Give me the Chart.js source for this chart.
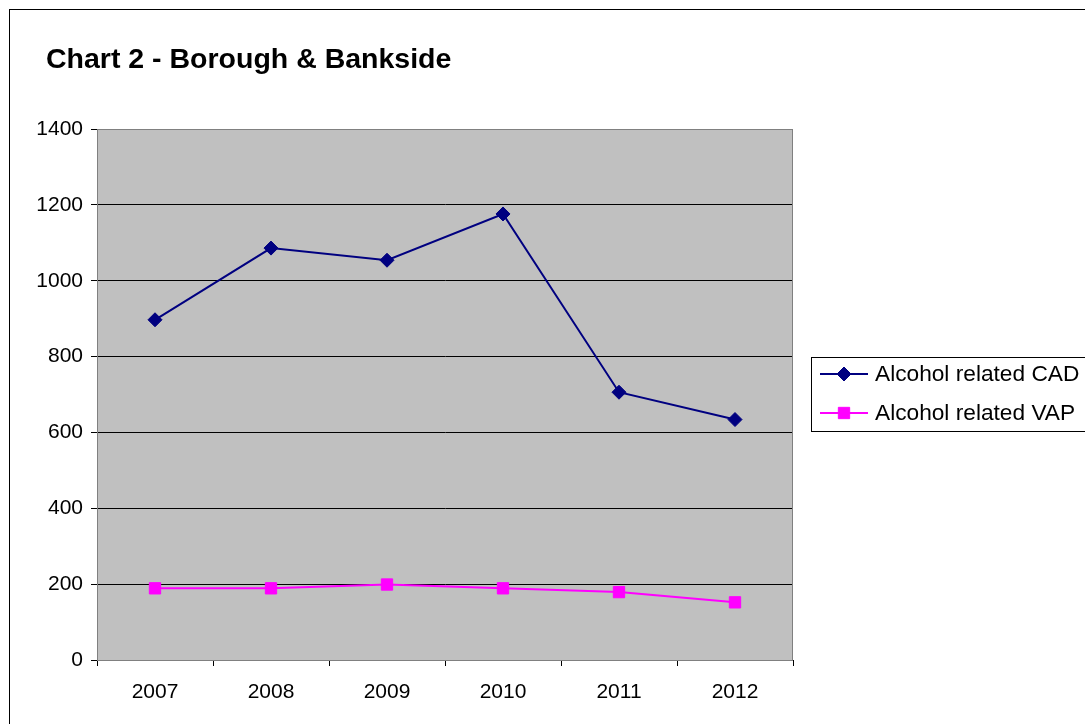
<!DOCTYPE html>
<html>
<head>
<meta charset="utf-8">
<script src="https://cdn.jsdelivr.net/npm/chart.js@4.4.0/dist/chart.umd.min.js"></script>
<style>
  html, body { margin: 0; padding: 0; background: #fff; }
  #wrap { width: 1085px; height: 724px; position: relative; }
</style>
</head>
<body>
<div id="wrap"><canvas id="chart2"></canvas></div>
<script>
// data
const years = ['2007', '2008', '2009', '2010', '2011', '2012'];
const cadValues = [897, 1086, 1054, 1176, 706, 634];
const vapValues = [189, 189, 199, 189, 179, 152];
const seriesNames = ['Alcohol related CAD', 'Alcohol related VAP'];
const chartTitle = 'Chart 2 - Borough & Bankside';

const FONT = '"Liberation Sans", Arial, sans-serif';

// grey plot area + outer frame + title
const framePlugin = {
  id: 'frame',
  beforeDraw(chart) {
    const { ctx, chartArea: a } = chart;
    ctx.save();
    ctx.fillStyle = '#fff';
    ctx.fillRect(0, 0, chart.width, chart.height);
    ctx.fillStyle = '#c0c0c0';
    ctx.fillRect(a.left, a.top, a.right - a.left, a.bottom - a.top);
    ctx.restore();
  },
  afterDraw(chart) {
    const { ctx, chartArea: a } = chart;
    ctx.save();
    ctx.strokeStyle = '#808080';
    ctx.lineWidth = 1;
    ctx.strokeRect(a.left + 0.5, a.top + 0.5, a.right - a.left - 1, a.bottom - a.top);
    // outer border of the chart object
    ctx.strokeStyle = '#000';
    ctx.strokeRect(9.5, 9.5, 1100, 740);
    ctx.fillStyle = '#000';
    ctx.font = 'bold 28.5px ' + FONT;
    ctx.textBaseline = 'alphabetic';
    ctx.fillText(chartTitle, 46, 68);
    ctx.restore();
  }
};

// legend box on the right, drawn from the datasets
const legendBoxPlugin = {
  id: 'legendBox',
  afterDraw(chart) {
    const { ctx } = chart;
    ctx.save();
    ctx.strokeStyle = '#000';
    ctx.lineWidth = 1;
    ctx.strokeRect(811.5, 357.5, 400, 74);
    ctx.font = '22.7px ' + FONT;
    ctx.textBaseline = 'middle';
    chart.data.datasets.forEach((ds, i) => {
      const y = 374 + i * 39;
      ctx.strokeStyle = ds.borderColor;
      ctx.lineWidth = 2;
      ctx.beginPath();
      ctx.moveTo(820, y);
      ctx.lineTo(868, y);
      ctx.stroke();
      ctx.fillStyle = ds.backgroundColor;
      ctx.lineWidth = 1;
      Chart.helpers.drawPoint(ctx, {
        pointStyle: ds.pointStyle,
        radius: ds.pointRadius,
        borderWidth: 1
      }, 844, y);
      ctx.fillStyle = '#000';
      ctx.fillText(ds.label, 875, y + 1);
    });
    ctx.restore();
  }
};

const ctx = document.getElementById('chart2').getContext('2d');
new Chart(ctx, {
  type: 'line',
  data: {
    labels: years,
    datasets: [
      {
        label: seriesNames[0],
        data: cadValues,
        borderColor: '#000080',
        backgroundColor: '#000080',
        borderWidth: 2,
        pointStyle: 'rectRot',
        pointRadius: 7,
        pointBorderWidth: 1,
        tension: 0
      },
      {
        label: seriesNames[1],
        data: vapValues,
        borderColor: '#ff00ff',
        backgroundColor: '#ff00ff',
        borderWidth: 2,
        pointStyle: 'rect',
        pointRadius: 8,
        pointBorderWidth: 1,
        tension: 0
      }
    ]
  },
  options: {
    responsive: true,
    maintainAspectRatio: false,
    animation: false,
    layout: { padding: { left: 10, top: 129, right: 292, bottom: 14 } },
    plugins: {
      legend: { display: false },
      title: { display: false },
      tooltip: { enabled: false }
    },
    scales: {
      x: {
        offset: true,
        afterFit: s => { s.height = 50; },
        grid: {
          offset: true,
          drawOnChartArea: false,
          drawTicks: true,
          tickLength: 6,
          color: '#000'
        },
        border: { color: '#000', width: 1 },
        ticks: { color: '#000', font: { family: FONT, size: 21 }, padding: 14 }
      },
      y: {
        min: 0,
        max: 1400,
        afterFit: s => { s.width = 87; },
        ticks: {
          stepSize: 200,
          color: '#000',
          font: { family: FONT, size: 21 },
          padding: 8,
          callback: v => String(v)
        },
        grid: { color: '#000', lineWidth: 1, tickLength: 6 },
        border: { color: '#000', width: 1 }
      }
    }
  },
  plugins: [framePlugin, legendBoxPlugin]
});
</script>
</body>
</html>
